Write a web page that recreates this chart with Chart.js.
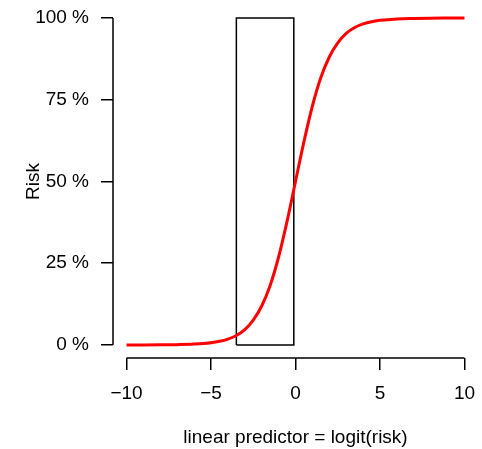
<!DOCTYPE html>
<html>
<head>
<meta charset="utf-8">
<script src="https://cdn.jsdelivr.net/npm/chart.js@4.4.0/dist/chart.umd.min.js"></script>
<style>
html, body { margin: 0; padding: 0; background: #fff; }
canvas { display: block; }
</style>
</head>
<body>
<canvas id="myChart" width="482" height="449"></canvas>
<script>
// values
const lp_values = [-10, -9, -8, -7, -6, -5, -4.5, -4, -3.5, -3, -2.5, -2, -1.5, -1, -0.5, 0, 0.5, 1, 1.5, 2, 2.5, 3, 3.5, 4, 4.5, 5, 6, 7, 8, 9, 10];
const risk_values = [0.005, 0.01, 0.03, 0.09, 0.25, 0.67, 1.1, 1.8, 2.9, 4.7, 7.6, 11.9, 18.2, 26.9, 37.8, 50, 62.2, 73.1, 81.8, 88.1, 92.4, 95.3, 97.1, 98.2, 98.9, 99.3, 99.75, 99.9, 99.97, 99.99, 100];
const box_x = [-3.5, -0.1];
const box_y = [0, 100];
const x_ticks = [-10, -5, 0, 5, 10];
const y_ticks = [0, 25, 50, 75, 100];

const font_name = '"Liberation Sans", Arial, sans-serif';

let curve = [];
for(let i=0; i<lp_values.length; i++){
  curve.push({x: lp_values[i], y: risk_values[i]});
}
let box = [
  {x: box_x[0], y: box_y[0]},
  {x: box_x[0], y: box_y[1]},
  {x: box_x[1], y: box_y[1]},
  {x: box_x[1], y: box_y[0]},
  {x: box_x[0], y: box_y[0]}
];

// R style axis lines, only from first to last tick
const axisLines = {
  id: 'axisLines',
  afterDraw(chart){
    const ctx = chart.ctx;
    const xs = chart.scales.x;
    const ys = chart.scales.y;
    ctx.save();
    ctx.strokeStyle = '#000';
    ctx.lineWidth = 1.5;
    ctx.beginPath();
    ctx.moveTo(xs.getPixelForValue(x_ticks[0]), xs.top);
    ctx.lineTo(xs.getPixelForValue(x_ticks[x_ticks.length-1]), xs.top);
    ctx.moveTo(ys.right, ys.getPixelForValue(y_ticks[0]));
    ctx.lineTo(ys.right, ys.getPixelForValue(y_ticks[y_ticks.length-1]));
    ctx.stroke();
    ctx.restore();
  }
};

function noOverhang(scale){
  scale.paddingTop = 0;
  scale.paddingBottom = 0;
  scale.paddingLeft = 0;
  scale.paddingRight = 0;
}

const ctx = document.getElementById('myChart');

new Chart(ctx, {
  type: 'line',
  data: {
    datasets: [{
      data: curve,
      borderColor: '#ff0000',
      borderWidth: 3,
      pointRadius: 0,
      cubicInterpolationMode: 'monotone',
      fill: false,
      order: 0
    },{
      data: box,
      borderColor: '#000',
      borderWidth: 1.5,
      pointRadius: 0,
      tension: 0,
      fill: false,
      order: 1
    }]
  },
  options: {
    responsive: false,
    animation: false,
    devicePixelRatio: 1,
    layout: { padding: { top: 5, right: 4, left: 0, bottom: 0 } },
    plugins: {
      legend: { display: false },
      tooltip: { enabled: false }
    },
    scales: {
      x: {
        type: 'linear',
        min: -10.8,
        max: 10.8,
        afterFit: function(scale){ scale.height = 91; noOverhang(scale); },
        afterBuildTicks: function(scale){ scale.ticks = x_ticks.map(v => ({value: v})); },
        border: { display: false },
        grid: {
          drawOnChartArea: false,
          drawTicks: true,
          tickLength: 12,
          color: '#000',
          lineWidth: 1.5
        },
        ticks: {
          color: '#000',
          padding: 12,
          maxRotation: 0,
          autoSkip: false,
          font: { family: font_name, size: 19 },
          callback: function(v){ return v < 0 ? '\u2212' + Math.abs(v) : String(v); }
        },
        title: {
          display: true,
          text: 'linear predictor = logit(risk)',
          color: '#000',
          padding: { top: 0, bottom: 0 },
          font: { family: font_name, size: 19 }
        }
      },
      y: {
        type: 'linear',
        min: -4,
        max: 104,
        afterFit: function(scale){ scale.width = 113; noOverhang(scale); },
        afterBuildTicks: function(scale){ scale.ticks = y_ticks.map(v => ({value: v})); },
        border: { display: false },
        grid: {
          drawOnChartArea: false,
          drawTicks: true,
          tickLength: 12,
          color: '#000',
          lineWidth: 1.5
        },
        ticks: {
          color: '#000',
          padding: 12,
          autoSkip: false,
          font: { family: font_name, size: 19 },
          callback: function(v){ return v + ' %'; }
        },
        title: {
          display: true,
          text: 'Risk',
          color: '#000',
          padding: { top: 22, bottom: 0 },
          font: { family: font_name, size: 19 }
        }
      }
    }
  },
  plugins: [axisLines]
});
</script>
</body>
</html>
